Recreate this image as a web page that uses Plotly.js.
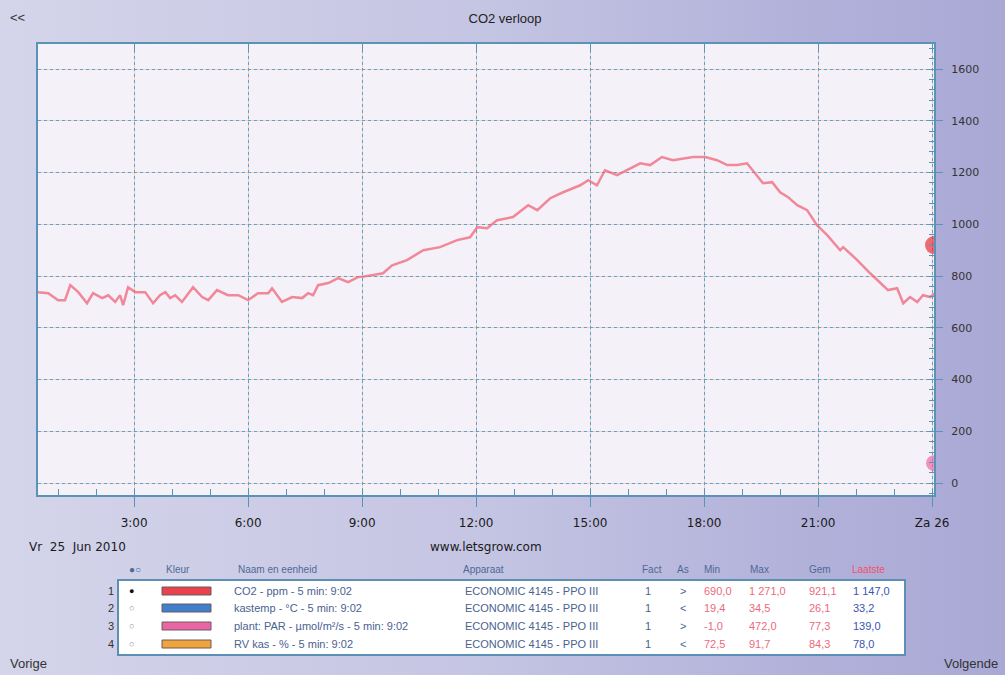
<!DOCTYPE html>
<html><head><meta charset="utf-8">
<script src="https://cdn.plot.ly/plotly-3.0.1.min.js"></script>
<style>
html,body{margin:0;padding:0;}
body{width:1005px;height:675px;overflow:hidden;background:linear-gradient(to right,#d4d4ea 0%,#c6c6e4 45%,#b2b1da 80%,#aaa9d6 100%);}
#chart{width:1005px;height:675px;}
</style></head><body><div id="chart"></div>
<script>
// ---- data ----
const hours = [0.47,0.74,1.00,1.18,1.32,1.53,1.76,1.92,2.16,2.32,2.50,2.63,2.71,2.84,3.03,3.29,3.50,3.68,3.82,3.95,4.08,4.26,4.55,4.79,4.95,5.18,5.47,5.74,6.00,6.26,6.53,6.63,6.89,7.16,7.42,7.58,7.71,7.84,8.11,8.37,8.63,8.89,9.03,9.55,9.79,10.18,10.61,11.05,11.50,11.84,12.03,12.29,12.55,12.97,13.37,13.61,13.95,14.29,14.74,14.95,15.18,15.39,15.71,16.05,16.32,16.58,16.89,17.18,17.71,18.03,18.34,18.61,18.87,19.13,19.34,19.55,19.79,20.00,20.21,20.45,20.71,20.97,21.24,21.58,21.66,22.03,22.37,22.63,22.84,23.08,23.24,23.42,23.61,23.76,23.95,24.08];
const co2 = [738,734,707,707,765,738,695,734,715,726,700,726,688,757,738,738,695,726,738,715,726,700,757,719,707,746,726,726,707,734,734,753,700,719,715,734,726,765,773,792,777,796,798,811,842,862,900,912,939,950,989,985,1016,1028,1074,1055,1101,1124,1151,1171,1151,1209,1190,1217,1236,1229,1260,1248,1260,1260,1248,1229,1229,1236,1198,1159,1163,1124,1105,1074,1055,997,958,900,912,862,811,773,746,753,695,719,700,726,719,734];
const lastHour = 24.05;
const lastValues = [920, 77];
const tickHours = [3,6,9,12,15,18,21,24];
const tickLabels = ['3:00','6:00','9:00','12:00','15:00','18:00','21:00','Za 26'];
const yTicks = [0,200,400,600,800,1000,1200,1400,1600];
const rowNumbers = ['1','2','3','4'];
const seriesNames = ['CO2 - ppm - 5 min: 9:02','kastemp - °C - 5 min: 9:02','plant: PAR - µmol/m²/s - 5 min: 9:02','RV kas - % - 5 min: 9:02'];
const devices = ['ECONOMIC 4145 - PPO III','ECONOMIC 4145 - PPO III','ECONOMIC 4145 - PPO III','ECONOMIC 4145 - PPO III'];
const facts = ['1','1','1','1'];
const axesSide = ['>','<','>','<'];
const minVals = ['690,0','19,4','-1,0','72,5'];
const maxVals = ['1 271,0','34,5','472,0','91,7'];
const avgVals = ['921,1','26,1','77,3','84,3'];
const lastVals = ['1 147,0','33,2','139,0','78,0'];
const headers = ['●○','Kleur','Naam en eenheid','Apparaat','Fact','As','Min','Max','Gem','Laatste'];

// ---- styles ----
const swatchColors = ['#e8434c','#3f7fcb','#e866a6','#f0a43a'];
const markerColors = ['#e8303c','#ee6aa8'];
const bullets = ['●','○','○','○'];
const L=38, R=934, T=44, B=495, W=1005, H=675;
const px = x => (x-L)/(R-L);
const py = y => (B-y)/(B-T);
const FONT = 'Liberation Sans, Arial, sans-serif';

const traces = [
  {x:hours, y:co2, type:'scatter', mode:'lines', line:{color:'rgba(240,105,125,0.78)', width:2.5, shape:'linear'}, hoverinfo:'skip', showlegend:false},
  {x:[lastHour,lastHour], y:lastValues, type:'scatter', mode:'markers', cliponaxis:true,
   marker:{size:[18,16], color:markerColors, line:{width:0}}, hoverinfo:'skip', showlegend:false},
  {x:[], y:[], xaxis:'x2', yaxis:'y2', type:'scatter', mode:'lines', hoverinfo:'skip', showlegend:false}
];

const annotations = [];
function txt(x,y,text,opt){
  annotations.push(Object.assign({xref:'paper',yref:'paper',x:px(x),y:py(y),text:text,showarrow:false,
    xanchor:'left',yanchor:'middle',font:{family:FONT,size:11,color:'#3f5a85'}},opt||{}));
}
txt(8,17,'<<',{font:{family:FONT,size:13,color:'#333'}});
txt(27,547,'Vr  25  Jun 2010',{font:{family:'DejaVu Sans, sans-serif',size:12,color:'#1a1a1a'}});
txt(486,547,'www.letsgrow.com',{xanchor:'center',font:{family:'DejaVu Sans, sans-serif',size:12,color:'#1a1a1a'}});
txt(8,663,'Vorige',{font:{family:FONT,size:13,color:'#333'}});
txt(1000,663,'Volgende',{xanchor:'right',font:{family:FONT,size:13,color:'#333'}});
const headerX = [127,164,236,461,640,675,702,748,807,850];
headers.forEach((h,i)=>txt(headerX[i],569,h,{font:{family:FONT,size:10,color:i===9?'#f0506a':'#4d6a96'}}));
const rowY = [591,608,626,644];
rowNumbers.forEach((n,i)=>{
  const y=rowY[i];
  txt(116,y,n,{xanchor:'right',font:{family:FONT,size:11,color:'#333'}});
  txt(131,y,bullets[i],{xanchor:'center',font:{family:FONT,size:9,color:i===0?'#111':'#7a8fb0'}});
  txt(232,y,seriesNames[i],{font:{family:FONT,size:11,color:'#4a6290'}});
  txt(463,y,devices[i],{font:{family:FONT,size:11,color:'#4a6290'}});
  txt(643,y,facts[i],{font:{family:FONT,size:11,color:'#4a6290'}});
  txt(678,y,axesSide[i],{font:{family:FONT,size:11,color:'#4a6290'}});
  txt(702,y,minVals[i],{font:{family:FONT,size:11,color:'#ec6a7c'}});
  txt(747,y,maxVals[i],{font:{family:FONT,size:11,color:'#ec6a7c'}});
  txt(807,y,avgVals[i],{font:{family:FONT,size:11,color:'#ec6a7c'}});
  txt(851,y,lastVals[i],{font:{family:FONT,size:11,color:'#3a55b0'}});
});

const shapes = [
  {type:'rect',xref:'paper',yref:'paper',x0:px(118),x1:px(905),y0:py(580),y1:py(655),fillcolor:'#ffffff',line:{color:'#5d8fb4',width:2},layer:'below'}
];
rowY.forEach((y,i)=>{
  shapes.push({type:'rect',xref:'paper',yref:'paper',x0:px(162),x1:px(211),y0:py(y+4),y1:py(y-4),fillcolor:swatchColors[i],line:{color:'#6a5a60',width:1}});
});

const layout = {
  width:W, height:H, autosize:false,
  paper_bgcolor:'rgba(0,0,0,0)', plot_bgcolor:'#f4f2f8',
  margin:{l:L, r:W-R, t:T, b:H-B, pad:0},
  title:{text:'CO2 verloop', xref:'container', yref:'container', x:505/W, y:1-18/H, xanchor:'center', yanchor:'middle', font:{family:FONT,size:13,color:'#222'}},
  showlegend:false,
  xaxis:{range:[hours[0],lastHour], tickmode:'array', tickvals:tickHours, ticktext:tickLabels,
    showgrid:true, gridcolor:'#f7cdb8', gridwidth:1, zeroline:false,
    showline:true, linecolor:'#5a93b6', linewidth:2, mirror:true,
    ticks:'outside', ticklen:10, tickwidth:1, tickcolor:'#5a93b6', ticklabelstandoff:6,
    minor:{tickmode:'linear', tick0:0, dtick:1, ticks:'inside', ticklen:6, tickcolor:'#5a93b6', showgrid:false},
    tickfont:{family:'DejaVu Sans, sans-serif', size:12, color:'#1a1a1a'}, fixedrange:true},
  yaxis:{range:[-46,1697], side:'right', tickmode:'array', tickvals:yTicks,
    showgrid:true, gridcolor:'#f7cdb8', gridwidth:1, zeroline:false,
    showline:true, linecolor:'#5a93b6', linewidth:2, mirror:true,
    ticks:'outside', ticklen:7, tickwidth:1, tickcolor:'#5a93b6', ticklabelstandoff:6,
    minor:{tickmode:'linear', tick0:0, dtick:40, ticks:'inside', ticklen:5, tickcolor:'#5a93b6', showgrid:false},
    tickfont:{family:'DejaVu Sans, sans-serif', size:11, color:'#333'}, fixedrange:true},
  xaxis2:{overlaying:'x', anchor:'y2', side:'top', range:[hours[0],lastHour], tickmode:'array', tickvals:tickHours,
    showticklabels:false, showgrid:true, gridcolor:'#52a6d6', gridwidth:1, griddash:'3px,3px',
    ticks:'inside', ticklen:7, tickcolor:'#5a93b6', zeroline:false, showline:false, fixedrange:true},
  yaxis2:{overlaying:'y', anchor:'x2', side:'right', range:[-46,1697], tickmode:'array', tickvals:yTicks,
    showticklabels:false, showgrid:true, gridcolor:'#52a6d6', gridwidth:1, griddash:'3px,3px',
    ticks:'', zeroline:false, showline:false, fixedrange:true},
  annotations:annotations, shapes:shapes
};
Plotly.newPlot('chart', traces, layout, {displayModeBar:false, staticPlot:true});
</script></body></html>
